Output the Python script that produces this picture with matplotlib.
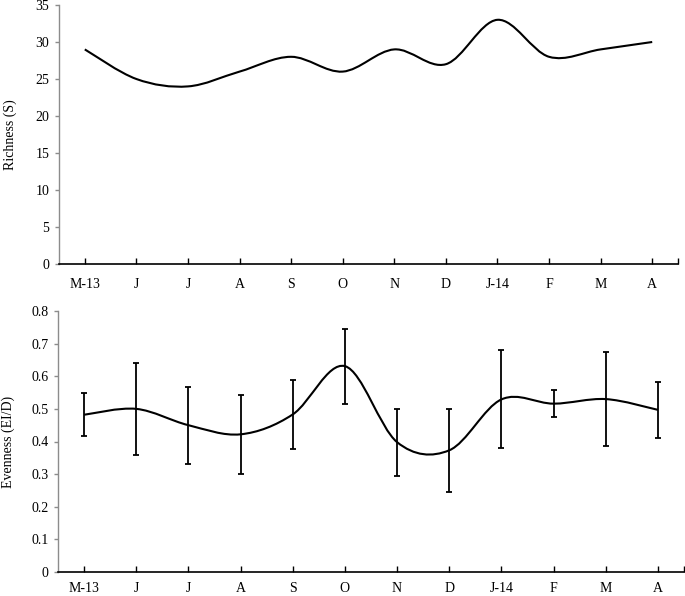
import matplotlib
matplotlib.use("Agg")
import matplotlib.pyplot as plt
from matplotlib.path import Path
from matplotlib.patches import PathPatch
import numpy as np

months = ["M-13", "J", "J", "A", "S", "O", "N", "D", "J-14", "F", "M", "A"]
richness = [29, 25, 24, 26, 28, 26, 29, 27, 33, 28, 29, 30]
evenness = [0.482, 0.500, 0.450, 0.422, 0.483, 0.631, 0.398, 0.373, 0.529, 0.516, 0.530, 0.497]
evenness_err = [0.066, 0.142, 0.118, 0.122, 0.107, 0.115, 0.103, 0.128, 0.150, 0.042, 0.144, 0.085]

plt.rcParams['font.family'] = ['Liberation Serif', 'DejaVu Serif']
plt.rcParams['font.size'] = 10

W, H = 685, 596
fig = plt.figure(figsize=(W / 100, H / 100), dpi=100)


def smooth_path(xs, ys):
    pts = np.column_stack([xs, ys]).astype(float)
    n = len(pts)
    verts = [pts[0]]
    codes = [Path.MOVETO]
    for i in range(n - 1):
        p0 = pts[i - 1] if i > 0 else pts[i]
        p1 = pts[i]
        p2 = pts[i + 1]
        p3 = pts[i + 2] if i + 2 < n else pts[i + 1]
        c1 = p1 + (p2 - p0) / 6.0
        c2 = p2 - (p3 - p1) / 6.0
        verts += [c1, c2, p2]
        codes += [Path.CURVE4] * 3
    return Path(verts, codes)


def style(ax, right_end, pad):
    for s in ["top", "right"]:
        ax.spines[s].set_visible(False)
    ax.spines["left"].set_color("#8c8c8c")
    ax.spines["left"].set_linewidth(1.0)
    ax.spines["bottom"].set_color("black")
    ax.spines["bottom"].set_linewidth(1.2)
    x = np.arange(len(months))
    ax.set_xticks(x)
    ax.set_xticklabels(months)
    ax.set_xticks([right_end], minor=True)
    ax.tick_params(axis="x", which="both", direction="in", length=4, width=1.0,
                   color="black", pad=pad, labelsize=10)
    ax.tick_params(axis="y", direction="out", length=3, width=1.0,
                   color="#8c8c8c", pad=4, labelsize=10)
    ax.set_xlim(-0.5, right_end)


# Top: richness
ax1 = fig.add_axes([59 / W, 1 - 264 / H, (678 - 59) / W, (264 - 5) / H])
style(ax1, 11.5, 10)
x = np.arange(len(months))
ax1.add_patch(PathPatch(smooth_path(x, richness), fill=False, edgecolor="black", lw=1.5))
ax1.set_ylim(0, 35)
ax1.set_yticks(range(0, 36, 5))
ax1.set_ylabel("Richness (S)")
ax1.yaxis.set_label_coords(-(59 - 17) / (678 - 59), 0.5)

# Bottom: evenness
ax2 = fig.add_axes([58 / W, 1 - 572 / H, (684 - 58) / W, (572 - 311) / H])
style(ax2, 11.5, 7)
ax2.add_patch(PathPatch(smooth_path(x, evenness), fill=False, edgecolor="black", lw=1.5))
ax2.errorbar(x, evenness, yerr=evenness_err, fmt="none", ecolor="black",
             elinewidth=1.3, capsize=2.5, capthick=1.3)
ax2.set_ylim(0, 0.8)
ax2.set_yticks(np.round(np.arange(0, 0.81, 0.1), 1))
ax2.set_yticklabels(["0"] + [f"{v:.1f}" for v in np.arange(0.1, 0.81, 0.1)])
ax2.set_ylabel("Evenness (EI/D)")
ax2.yaxis.set_label_coords(-(58 - 15) / (684 - 58), 0.5)

fig.savefig("out.png", dpi=100)
